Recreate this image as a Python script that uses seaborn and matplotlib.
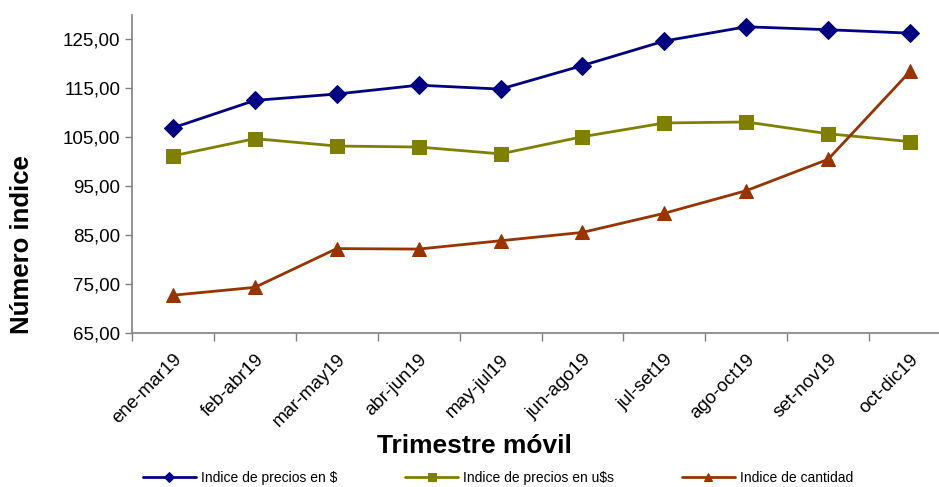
import matplotlib
matplotlib.use("Agg")
import matplotlib.pyplot as plt
import seaborn as sns
import pandas as pd
from matplotlib.ticker import FixedLocator, FuncFormatter

categories = ["ene-mar19", "feb-abr19", "mar-may19", "abr-jun19", "may-jul19",
              "jun-ago19", "jul-set19", "ago-oct19", "set-nov19", "oct-dic19"]
precios_pesos = [106.8, 112.4, 113.7, 115.5, 114.7, 119.5, 124.5, 127.4, 126.8, 126.1]
precios_usd = [101.1, 104.6, 103.1, 102.9, 101.5, 105.0, 107.8, 108.0, 105.6, 104.0]
cantidad = [72.7, 74.3, 82.2, 82.1, 83.8, 85.5, 89.4, 94.0, 100.4, 118.3]
series_names = ["Indice de precios en $", "Indice de precios en u$s", "Indice de cantidad"]
y_ticks = [65, 75, 85, 95, 105, 115, 125]

sns.set_theme(style="white")
plt.rcParams["font.family"] = ["Liberation Sans", "DejaVu Sans"]
plt.rcParams["text.color"] = "black"
plt.rcParams["axes.labelcolor"] = "black"

rows = []
for name, vals in zip(series_names, [precios_pesos, precios_usd, cantidad]):
    for i, v in enumerate(vals):
        rows.append({"pos": i, "valor": v, "serie": name})
df = pd.DataFrame(rows)

colors = {series_names[0]: "#000080", series_names[1]: "#808000", series_names[2]: "#993300"}
markers = {series_names[0]: "D", series_names[1]: "s", series_names[2]: "^"}
msizes = {series_names[0]: 9, series_names[1]: 10, series_names[2]: 10}

fig = plt.figure(figsize=(9.39, 4.87), dpi=100)
ax = fig.add_axes([132/939, 1-333/487, 819/939, (333-15)/487])

for name in series_names:
    sns.lineplot(data=df[df.serie == name], x="pos", y="valor", ax=ax,
                 color=colors[name], marker=markers[name], markersize=msizes[name],
                 markeredgecolor=colors[name], linewidth=2, label=name, clip_on=False)

ax.set_xlim(-0.5, 9.5)
ax.set_ylim(65, 129.8)
ax.set_yticks(y_ticks)
ax.yaxis.set_major_formatter(FuncFormatter(lambda v, p: f"{v:.2f}".replace(".", ",")))
ax.set_xticks(range(len(categories)))
ax.set_xticklabels(categories, rotation=45, ha="right", rotation_mode="anchor", fontsize=13.5)
ax.xaxis.set_minor_locator(FixedLocator([i - 0.5 for i in range(len(categories) + 1)]))
ax.tick_params(axis="x", which="major", length=0, pad=13, labelcolor="black")
ax.tick_params(axis="x", which="minor", length=6, width=1, color="#808080", direction="out", bottom=True)
ax.tick_params(axis="y", which="major", length=5, width=1, color="#808080", direction="out", left=True,
               labelsize=13.5, labelcolor="black")

for s in ["top", "right"]:
    ax.spines[s].set_visible(False)
for s in ["left", "bottom"]:
    ax.spines[s].set_color("#808080")
    ax.spines[s].set_linewidth(1.2)

ax.set_ylabel("Número indice", fontsize=18.5, fontweight="bold")
ax.yaxis.set_label_coords((34-132)/819, (333-245)/318)
ax.set_xlabel("Trimestre móvil", fontsize=19, fontweight="bold")
ax.xaxis.set_label_coords((474-132)/819, -(434-333)/318)

leg = ax.legend(loc="center", bbox_to_anchor=(498/939, 1-478/487), bbox_transform=fig.transFigure,
                ncol=3, frameon=False, fontsize=10, columnspacing=4.9, handlelength=3.8,
                handletextpad=0.36, markerscale=0.6, borderpad=0, borderaxespad=0)

fig.savefig("out.png", dpi=100)
